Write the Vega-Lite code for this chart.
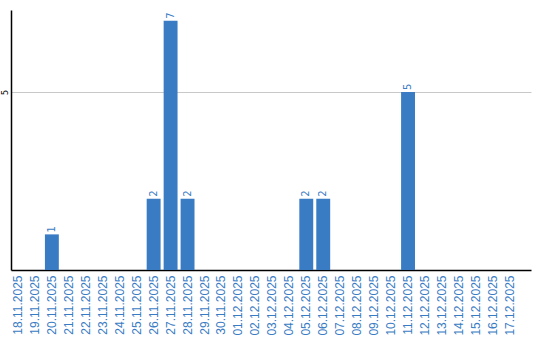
{
  "$schema": "https://vega.github.io/schema/vega-lite/v6.json",
  "width": 520,
  "height": 260,
  "autosize": "none",
  "padding": {"left": 11, "top": 10, "right": 9, "bottom": 70},
  "background": "white",
  "config": {"view": {"stroke": null}},
  "data": {"values": [
    {"d": "18.11.2025", "v": 0}, {"d": "19.11.2025", "v": 0}, {"d": "20.11.2025", "v": 1},
    {"d": "21.11.2025", "v": 0}, {"d": "22.11.2025", "v": 0}, {"d": "23.11.2025", "v": 0},
    {"d": "24.11.2025", "v": 0}, {"d": "25.11.2025", "v": 0}, {"d": "26.11.2025", "v": 2},
    {"d": "27.11.2025", "v": 7}, {"d": "28.11.2025", "v": 2}, {"d": "29.11.2025", "v": 0},
    {"d": "30.11.2025", "v": 0}, {"d": "01.12.2025", "v": 0}, {"d": "02.12.2025", "v": 0},
    {"d": "03.12.2025", "v": 0}, {"d": "04.12.2025", "v": 0}, {"d": "05.12.2025", "v": 2},
    {"d": "06.12.2025", "v": 2}, {"d": "07.12.2025", "v": 0}, {"d": "08.12.2025", "v": 0},
    {"d": "09.12.2025", "v": 0}, {"d": "10.12.2025", "v": 0}, {"d": "11.12.2025", "v": 5},
    {"d": "12.12.2025", "v": 0}, {"d": "13.12.2025", "v": 0}, {"d": "14.12.2025", "v": 0},
    {"d": "15.12.2025", "v": 0}, {"d": "16.12.2025", "v": 0}, {"d": "17.12.2025", "v": 0}
  ]},
  "encoding": {
    "x": {
      "field": "d", "type": "ordinal", "sort": null,
      "scale": {"paddingInner": 0.18, "paddingOuter": 0.42, "align": 0},
      "axis": {
        "title": null, "labelAngle": -90, "labelAlign": "right", "labelBaseline": "middle",
        "labelColor": "#3a7cc4", "labelFont": "Liberation Sans", "labelFontSize": 12,
        "labelPadding": 5, "ticks": false, "domainColor": "#000", "domainWidth": 1.5, "labelOverlap": false
      }
    },
    "y": {
      "field": "v", "type": "quantitative",
      "scale": {"domain": [0, 7.3], "nice": false},
      "axis": {
        "title": null, "values": [5], "labelAngle": -90, "labelAlign": "center", "labelBaseline": "bottom",
        "labelFontSize": 8, "labelFont": "DejaVu Sans", "labelColor": "#000", "labelPadding": 2,
        "ticks": false, "domainColor": "#000", "domainWidth": 1.5,
        "grid": true, "gridColor": "#c8c8c8", "gridWidth": 1
      }
    }
  },
  "layer": [
    {"mark": {"type": "bar", "color": "#3a7cc4"}},
    {
      "transform": [{"filter": "datum.v > 0"}],
      "mark": {"type": "text", "angle": -90, "align": "left", "baseline": "middle", "dx": 2,
               "color": "#3a7cc4", "font": "DejaVu Sans", "fontSize": 10},
      "encoding": {"text": {"field": "v", "type": "quantitative"}}
    }
  ]
}
